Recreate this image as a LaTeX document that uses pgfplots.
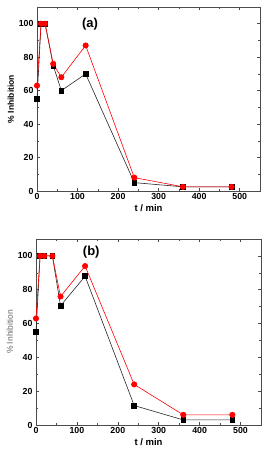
\documentclass[border=0pt]{standalone}
\usepackage{pgfplots}
\pgfplotsset{compat=1.18}
\usepackage{fontspec}
\setmainfont{Liberation Sans}

\pgfplotsset{
  inhib/.style={
    scale only axis,
    xmin=0, xmax=550, ymin=0, ymax=110,
    xtick={0,100,...,500}, ytick={0,20,...,100},
    minor x tick num=1, minor y tick num=1,
    tick align=inside, tick pos=both,
    major tick length=3pt, minor tick length=1.8pt,
    axis line style={black!70, line width=0.6pt},
    every tick/.style={black!70, line width=0.5pt},
    /pgf/number format/assume math mode=true,
    ticklabel style={font=\fontsize{8.8}{9}\selectfont\bfseries},
    xticklabel style={yshift=1pt},
    xlabel={t / min},
    xlabel style={font=\fontsize{9.5}{10}\selectfont\bfseries, yshift=2pt},
    ylabel style={font=\fontsize{8.5}{9}\selectfont\bfseries, yshift=-2pt},
  },
  blk/.style={black!85, line width=0.6pt, mark=square*, mark size=2.4pt,
    mark options={solid, fill=black, draw=black}},
  rd/.style={red, line width=0.6pt, mark=*, mark size=2.7pt,
    mark options={solid, fill=red}},
}

\begin{document}
\begin{tikzpicture}[x=1pt,y=1pt]
\useasboundingbox (0,0) rectangle (269,449);

% panel (a)
\begin{axis}[inhib, at={(37pt,258pt)}, anchor=south west,
  width=223pt, height=184pt, ylabel={\% Inhibition}]
\addplot[blk] coordinates {(0,55) (10,100) (20,100) (40,75) (60,60) (120,70) (240,5) (360,2.5) (480,2.5)};
\addplot[rd] coordinates {(0,63) (10,100) (20,100) (40,76) (60,68) (120,87) (240,8) (360,2.5) (480,2.5)};
\node[font=\fontsize{13}{14}\selectfont\bfseries] at (axis cs:131,100) {(a)};
\end{axis}

% panel (b)
\begin{axis}[inhib, at={(36pt,24pt)}, anchor=south west,
  width=225pt, height=186pt, ylabel={\% Inhibition},
  ylabel style={font=\fontsize{8.5}{9}\selectfont, text=black!60}]
\addplot[blk] coordinates {(0,55) (10,100) (20,100) (40,100) (60,70.5) (120,88) (240,11.5) (360,3) (480,3)};
\addplot[rd] coordinates {(0,63) (10,100) (20,100) (40,100) (60,76) (120,94) (240,24) (360,6) (480,6)};
\node[font=\fontsize{13}{14}\selectfont\bfseries] at (axis cs:135,102) {(b)};
\end{axis}
\end{tikzpicture}
\end{document}
